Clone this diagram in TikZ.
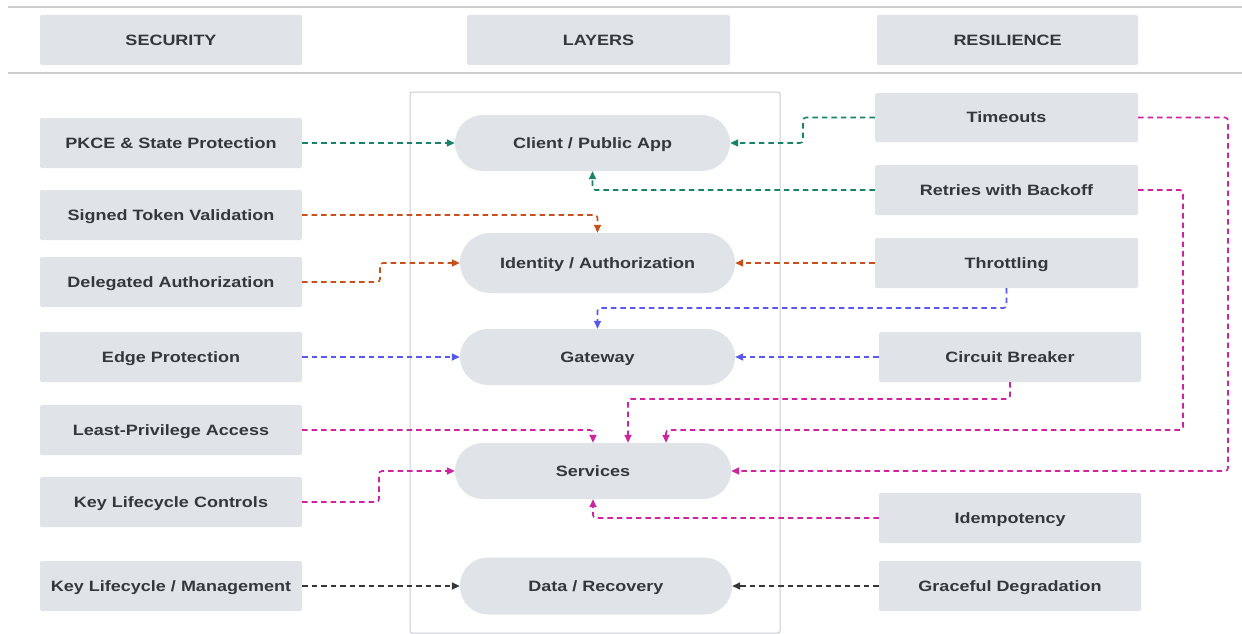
\documentclass[tikz,border=0pt]{standalone}
\usepackage{fontspec}
\setmainfont{Liberation Sans}[FakeStretch=1.2]
\usetikzlibrary{arrows.meta}
\definecolor{boxfill}{RGB}{224,227,231}
\definecolor{txt}{RGB}{52,56,62}
\definecolor{rule}{RGB}{205,205,208}
\definecolor{frame}{RGB}{200,204,210}
\definecolor{cteal}{RGB}{24,130,106}
\definecolor{corange}{RGB}{201,80,26}
\definecolor{cblue}{RGB}{88,88,236}
\definecolor{cmag}{RGB}{206,36,160}
\definecolor{cdark}{RGB}{55,55,58}
\tikzset{
  lbl/.style={font=\fontsize{15}{17}\selectfont\bfseries, text=txt, text height=10.7pt, text depth=0pt},
  box/.style={lbl, fill=boxfill, rounded corners=2pt, minimum width=262pt, minimum height=50pt, inner sep=0pt},
  pill/.style={lbl, fill=boxfill, rounded corners=28pt, minimum width=275pt, minimum height=56pt, inner sep=0pt},
  conn/.style={line width=1.6pt, dash pattern=on 5.5pt off 4pt, rounded corners=3pt, -{Triangle[length=8pt,width=7pt]}},
}
\begin{document}
\begin{tikzpicture}[x=1pt,y=-1pt]
\useasboundingbox (0,0) rectangle (1242,634);
\fill[white] (0,0) rectangle (1242,634);
% rules
\draw[rule, line width=2pt] (8,7) -- (1242,7);
\draw[rule, line width=2pt] (8,73) -- (1242,73);
% layers frame
\draw[frame, line width=1pt, rounded corners=2pt] (410,92) rectangle (780,633);
% headers
\node[box] (sec) at (171,40) {SECURITY};
\node[box, minimum width=263pt] (lay) at (598.5,40) {LAYERS};
\node[box, minimum width=261pt] (res) at (1007.5,40) {RESILIENCE};
% left column
\node[box] (l1) at (171,143) {PKCE \& State Protection};
\node[box] (l2) at (171,215) {Signed Token Validation};
\node[box] (l3) at (171,282) {Delegated Authorization};
\node[box] (l4) at (171,357) {Edge Protection};
\node[box] (l5) at (171,430) {Least-Privilege Access};
\node[box] (l6) at (171,502) {Key Lifecycle Controls};
\node[box] (l7) at (171,586) {Key Lifecycle / Management};
% middle layers
\node[pill] (client) at (592.5,143) {Client / Public App};
\node[pill, minimum height=60pt, rounded corners=30pt] (ident) at (597.5,263) {Identity / Authorization};
\node[pill] (gate) at (597.5,357) {Gateway};
\node[pill, minimum width=276pt] (serv) at (593,471) {Services};
\node[pill, minimum width=272pt, minimum height=57pt] (data) at (596,586) {Data / Recovery};
% right column
\node[box, minimum width=263pt, minimum height=49pt] (tim) at (1006.5,117.5) {Timeouts};
\node[box, minimum width=263pt] (ret) at (1006.5,190) {Retries with Backoff};
\node[box, minimum width=263pt] (thr) at (1006.5,263) {Throttling};
\node[box] (cb) at (1010,357) {Circuit Breaker};
\node[box] (idem) at (1010,518) {Idempotency};
\node[box] (grace) at (1010,586) {Graceful Degradation};
% teal
\draw[conn, cteal] (l1.east) -- (client.west);
\draw[conn, cteal] (tim.west) -- (803,117.5) |- (client.east);
\draw[conn, cteal] (ret.west) -| (client.south);
% orange
\draw[conn, corange] (l2.east) -| (ident.north);
\draw[conn, corange] (l3.east) -- (380,282) |- (ident.west);
\draw[conn, corange] (thr.west) -- (ident.east);
% blue
\draw[conn, cblue] (thr.south) -- (1006.5,308) -| (gate.north);
\draw[conn, cblue] (l4.east) -- (gate.west);
\draw[conn, cblue] (cb.west) -- (gate.east);
% magenta
\draw[conn, cmag] (cb.south) -- (1010,399) -| ([xshift=35pt]serv.north);
\draw[conn, cmag] (ret.east) -- (1183,190) |- (666,430) -- ([xshift=73pt]serv.north);
\draw[conn, cmag] (tim.east) -- (1228,117.5) |- (serv.east);
\draw[conn, cmag] (l5.east) -| (serv.north);
\draw[conn, cmag] (l6.east) -- (379,502) |- (serv.west);
\draw[conn, cmag] (idem.west) -| (serv.south);
% dark
\draw[conn, cdark] (l7.east) -- (data.west);
\draw[conn, cdark] (grace.west) -- (data.east);
\end{tikzpicture}
\end{document}
